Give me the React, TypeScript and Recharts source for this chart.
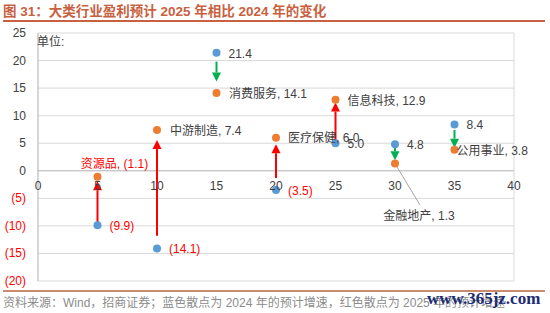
import React from "react";
import {
  ScatterChart,
  Scatter,
  XAxis,
  YAxis,
  CartesianGrid,
  ReferenceLine,
  LabelList,
} from "recharts";

// 行业顺序与横轴位置
const sectors = ["资源品", "中游制造", "消费服务", "医疗保健", "信息科技", "金融地产", "公用事业"];
const sectorX = [5, 10, 15, 20, 25, 30, 35];
// 2024 预计增速（蓝）与 2025 预计增速（橙）
const growth2024 = [-9.9, -14.1, 21.4, -3.5, 5.0, 4.8, 8.4];
const growth2025 = [-1.1, 7.4, 14.1, 6.0, 12.9, 1.3, 3.8];
// 手绘箭头的起止值
const arrowFrom = [-9.9, -11.8, 19.8, -1.3, 5.1, 4.2, 7.4];
const arrowTo = [-1.9, 5.6, 16.2, 4.8, 12.4, 1.9, 4.2];

const xTicks = [0, 5, 10, 15, 20, 25, 30, 35, 40];
const yTicks = [25, 20, 15, 10, 5, 0, -5, -10, -15, -20];

const FONT = '"Liberation Sans", Arial, "Noto Sans CJK SC", sans-serif';
const BLUE = "#5b9bd5";
const ORANGE = "#ed7d31";
const RED = "#ff0000";
const GREEN = "#00b050";
const TEXT = "#404040";
const BRAND = "#c8613f";

const fmt = (v: number) => (v < 0 ? `(${Math.abs(v).toFixed(1)})` : v.toFixed(1));
const fmtTick = (v: number) => (v < 0 ? `(${Math.abs(v)})` : `${v}`);

const blueData = sectorX.map((x, i) => ({ x, y: growth2024[i], label: fmt(growth2024[i]) }));
const orangeData = sectorX.map((x, i) => ({
  x,
  y: growth2025[i],
  label: `${sectors[i]}, ${fmt(growth2025[i])}`,
}));
const tickData = xTicks.map((x) => ({ x, y: 0, label: `${x}` }));

// 标签摆放（相对点中心）
const orangeLabelPos: { dx: number; dy: number; anchor?: "start" | "middle" }[] = [
  { dx: 17, dy: -13, anchor: "middle" },
  { dx: 13, dy: 1 },
  { dx: 12.5, dy: 1 },
  { dx: 12, dy: 0.5 },
  { dx: 12, dy: 1 },
  { dx: 24, dy: 52, anchor: "middle" },
  { dx: 2, dy: 1 },
];

const center = (p: any) => ({
  cx: Number(p.x) + Number(p.width || 0) / 2,
  cy: Number(p.y) + Number(p.height || 0) / 2,
});

const dot = (color: string) => (p: any) => <circle cx={p.cx} cy={p.cy} r={4} fill={color} />;

const arrowShape = (color: string) => (p: any) => {
  const { x1, y1, x2, y2 } = p;
  const dir = y2 < y1 ? -1 : 1;
  const head = 9;
  const yb = y2 - dir * head;
  return (
    <g>
      <line x1={x1} y1={y1} x2={x2} y2={yb} stroke={color} strokeWidth={2} />
      <polygon points={`${x2},${y2} ${x2 - 4.5},${yb} ${x2 + 4.5},${yb}`} fill={color} />
    </g>
  );
};

function YTick(props: any) {
  const { x, y, payload } = props;
  const v = payload.value as number;
  return (
    <text x={x} y={y} textAnchor="end" dominantBaseline="central" fontSize={12} fontFamily={FONT} fill={v < 0 ? RED : TEXT}>
      {fmtTick(v)}
    </text>
  );
}

export default function App() {
  return (
    <div style={{ position: "absolute", left: 0, top: 0, width: 550, height: 313, background: "#fff", fontFamily: FONT }}>
      <ScatterChart width={550} height={313} margin={{ top: 33, right: 36, bottom: 32, left: 0 }}>
        <CartesianGrid stroke="#d9d9d9" />
        <XAxis type="number" dataKey="x" domain={[0, 40]} ticks={xTicks} tick={false} axisLine={false} tickLine={false} height={0} />
        <YAxis
          type="number"
          dataKey="y"
          domain={[-20, 25]}
          ticks={yTicks}
          width={38}
          tickSize={0}
          tickMargin={12}
          tick={<YTick />}
          axisLine={{ stroke: "#bfbfbf" }}
          tickLine={false}
        />
        <ReferenceLine y={0} stroke="#bfbfbf" />
        <ReferenceLine
          segment={[{ x: 30, y: 1.3 }, { x: 32.1, y: -6.2 }]}
          stroke="#a6a6a6"
          strokeWidth={1}
        />
        <Scatter data={tickData} isAnimationActive={false} shape={() => <g />}>
          <LabelList
            dataKey="label"
            content={(p: any) => {
              const { cx, cy } = center(p);
              return (
                <text x={cx} y={cy + 15} textAnchor="middle" dominantBaseline="central" fontSize={12} fontFamily={FONT} fill={TEXT}>
                  {p.value}
                </text>
              );
            }}
          />
        </Scatter>
        <Scatter data={blueData} isAnimationActive={false} shape={dot(BLUE)}>
          <LabelList
            dataKey="label"
            content={(p: any) => {
              const { cx, cy } = center(p);
              const neg = String(p.value).startsWith("(");
              return (
                <text x={cx + 12} y={cy + 1} dominantBaseline="central" fontSize={12} fontFamily={FONT} fill={neg ? RED : TEXT}>
                  {p.value}
                </text>
              );
            }}
          />
        </Scatter>
        <Scatter data={orangeData} isAnimationActive={false} shape={dot(ORANGE)}>
          <LabelList
            dataKey="label"
            content={(p: any) => {
              const { cx, cy } = center(p);
              const pos = orangeLabelPos[p.index] || { dx: 12, dy: 1 };
              const neg = String(p.value).includes("(");
              return (
                <text
                  x={cx + pos.dx}
                  y={cy + pos.dy}
                  textAnchor={pos.anchor || "start"}
                  dominantBaseline="central"
                  fontSize={12}
                  fontFamily={FONT}
                  fill={neg ? RED : TEXT}
                >
                  {p.value}
                </text>
              );
            }}
          />
        </Scatter>
        {sectorX.map((x, i) => (
          <ReferenceLine
            key={x}
            segment={[{ x, y: arrowFrom[i] }, { x, y: arrowTo[i] }]}
            shape={arrowShape(arrowTo[i] > arrowFrom[i] ? RED : GREEN)}
          />
        ))}
      </ScatterChart>

      <div style={{ position: "absolute", left: 3, top: 4, fontSize: 13.5, fontWeight: "bold", color: BRAND, lineHeight: "16px", whiteSpace: "nowrap" }}>
        图 31：大类行业盈利预计 2025 年相比 2024 年的变化
      </div>
      <div style={{ position: "absolute", left: 3, top: 20, width: 542, height: 2, background: BRAND }} />
      <div style={{ position: "absolute", left: 37, top: 34, fontSize: 12, color: TEXT, lineHeight: "16px" }}>单位:</div>
      <div style={{ position: "absolute", left: 3, top: 290, width: 542, height: 2, background: "#c98a6e" }} />
      <div style={{ position: "absolute", left: 3, top: 295, fontSize: 12, color: "#8c8c8c", lineHeight: "16px", whiteSpace: "nowrap" }}>
        资料来源：Wind，招商证券；蓝色散点为 2024 年的预计增速，红色散点为 2025 年的预计增速
      </div>
      <div
        style={{
          position: "absolute",
          left: 427,
          top: 289,
          fontSize: 17,
          fontWeight: "bold",
          color: "#1c2d73",
          fontFamily: '"Liberation Serif", serif',
          lineHeight: "20px",
          whiteSpace: "nowrap",
        }}
      >
        www.365jz.com
      </div>
    </div>
  );
}
